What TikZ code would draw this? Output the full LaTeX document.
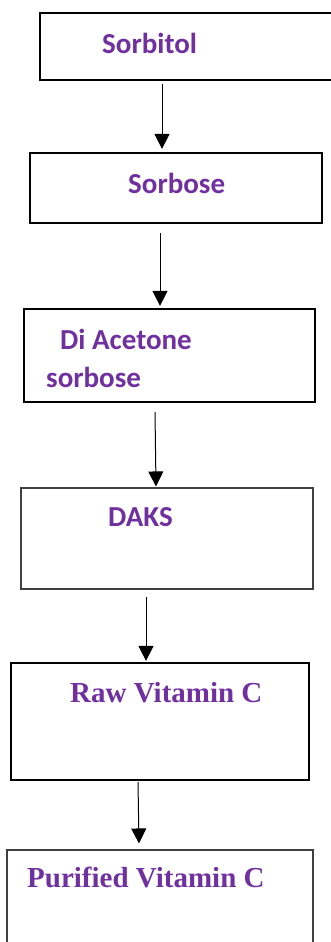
\documentclass[tikz,border=0pt]{standalone}
\usepackage{fontspec}
\setmainfont{Liberation Serif}
\newfontfamily\calfont{Carlito}
\usetikzlibrary{arrows.meta}
\definecolor{txtpurple}{HTML}{7030A0}
\definecolor{thinedge}{HTML}{404040}
\begin{document}
\begin{tikzpicture}[x=1pt,y=-1pt,
  thickbox/.style={draw=black, line width=2.2pt, inner sep=0, rectangle},
  thinbox/.style={draw=thinedge, line width=1.1pt, inner sep=0, rectangle},
  lbl/.style={inner sep=0, anchor=base west, text=txtpurple, font=\fontsize{29}{34}\selectfont\bfseries},
  arr/.style={line width=1pt, -{Triangle[width=15pt,length=15pt]}}]
\useasboundingbox (0,0) rectangle (330,942);
% boxes
\node[thickbox, minimum width=294pt, minimum height=67pt] (b1) at (187,46.5) {};
\node[thickbox, minimum width=292pt, minimum height=70pt] (b2) at (176,188) {};
\node[thickbox, minimum width=291pt, minimum height=93pt] (b3) at (169.5,355.5) {};
\node[thinbox, minimum width=292pt, minimum height=101pt] (b4) at (167,538.5) {};
\node[thickbox, minimum width=298pt, minimum height=117pt] (b5) at (160,721.5) {};
\node[thinbox, minimum width=306pt, minimum height=110pt] (b6) at (160,905) {};
% labels
\node[lbl] (t1) at (102,53) {\calfont\bfseries Sorbitol};
\node[lbl] (t2) at (128,193) {\calfont\bfseries Sorbose};
\node[lbl] (t3a) at (60,349) {\calfont\bfseries Di Acetone};
\node[lbl] (t3b) at (46,387.5) {\calfont\bfseries sorbose};
\node[lbl] (t4) at (108,526.5) {\calfont\bfseries DAKS};
\node[lbl] (t5) at (70,702.5) {Raw Vitamin C};
\node[lbl] (t6) at (27,887.5) {Purified Vitamin C};
% arrows
\draw[arr] ([shift={(-25,3)}]b1.south) -- ([shift={(-14,-3)}]b2.north);
\draw[arr] ([shift={(-16,9)}]b2.south) -- ([shift={(-9.5,-2)}]b3.north);
\draw[arr] ([shift={(-14.5,9)}]b3.south) -- ([shift={(-11,-1)}]b4.north);
\draw[arr] ([shift={(-21,7)}]b4.south) -- ([shift={(-14,-1)}]b5.north);
\draw[arr] ([shift={(-22,1)}]b5.south) -- ([shift={(-21,-6)}]b6.north);
\end{tikzpicture}
\end{document}
